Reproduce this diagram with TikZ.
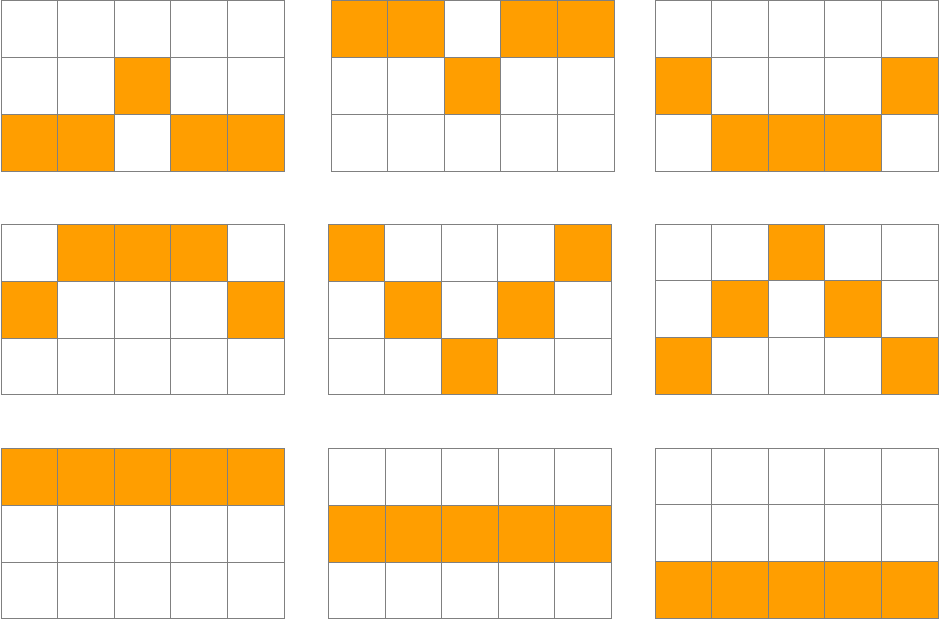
\documentclass[tikz,border=0pt]{standalone}
\definecolor{cellorange}{HTML}{FF9E00}
\definecolor{cellgrey}{HTML}{808080}
\tikzset{
  cellline/.style={draw=cellgrey,line width=1pt},
  cellon/.style={fill=cellorange}
}
\newcommand\drawgrid[3]{%
  \foreach \r/\c in {#3} {
    \fill[cellon] ({#1+\c*56.6},{#2+\r*56.8}) rectangle ++(56.6,56.8);
  }
  \foreach \r in {0,1,2} {
    \foreach \c in {0,...,4} {
      \draw[cellline] ({#1+\c*56.6},{#2+\r*56.8}) rectangle ++(56.6,56.8);
    }
  }
}
\begin{document}
\begin{tikzpicture}[x=1pt,y=-1pt]
\useasboundingbox (0,0) rectangle (939,621);
\drawgrid{1}{0.8}{1/2,2/0,2/1,2/3,2/4}
\drawgrid{331}{0.8}{0/0,0/1,0/3,0/4,1/2}
\drawgrid{655}{0.8}{1/0,1/4,2/1,2/2,2/3}
\drawgrid{1}{224.5}{0/1,0/2,0/3,1/0,1/4}
\drawgrid{328}{224.5}{0/0,0/4,1/1,1/3,2/2}
\drawgrid{655}{224}{0/2,1/1,1/3,2/0,2/4}
\drawgrid{1}{448.5}{0/0,0/1,0/2,0/3,0/4}
\drawgrid{328.5}{448.5}{1/0,1/1,1/2,1/3,1/4}
\drawgrid{655}{448}{2/0,2/1,2/2,2/3,2/4}
\end{tikzpicture}
\end{document}
